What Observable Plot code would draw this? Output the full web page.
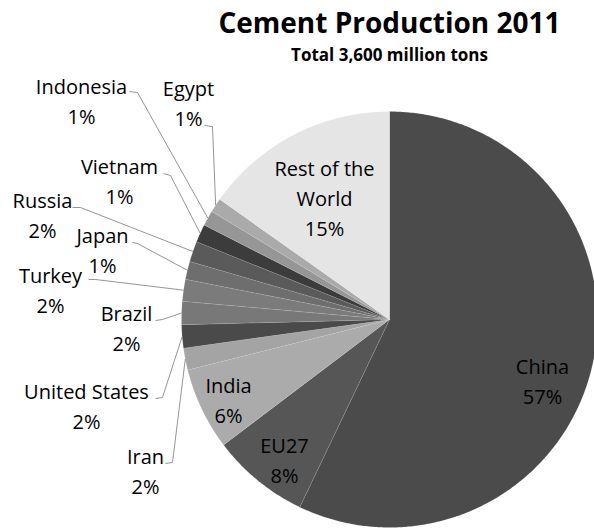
<!DOCTYPE html>
<html><head><meta charset="utf-8">
<script src="https://cdn.jsdelivr.net/npm/d3@7"></script>
<script src="https://cdn.jsdelivr.net/npm/@observablehq/plot@0.6"></script>
<style>body{margin:0;background:#fff}</style>
</head><body><div id="chart"></div>
<script>
// ---- data ----
const title = "Cement Production 2011";
const subtitle = "Total 3,600 million tons";
const countries = ["China","EU27","India","Iran","United States","Brazil","Turkey","Japan","Russia","Vietnam","Indonesia","Egypt","Rest of the World"];
const shares = [57.1, 7.6, 6.4, 1.7, 1.8, 1.8, 1.7, 1.4, 1.6, 1.4, 1.2, 1.1, 15.2]; // percent of total
const sliceColors = ["#4b4b4b","#565656","#ababab","#a4a4a4","#4a4a4a","#787878","#7b7b7b","#6e6e6e","#5a5a5a","#3c3c3c","#969696","#aaaaaa","#e5e5e5"];
const nameLines = {"Rest of the World": ["Rest of the", "World"]};

// ---- layout (pixels) ----
const W = 594, H = 531, CX = 389, CY = 319, R = 208, LH = 30;
const labelLayout = {
  "China":            {x: 542, b: 373},
  "EU27":             {x: 284, b: 452},
  "India":            {x: 228, b: 392},
  "Iran":             {x: 145, b: 463, leader: [[165,463],[172,462]]},
  "United States":    {x: 86,  b: 398, leader: [[155,398],[162,397]]},
  "Brazil":           {x: 126, b: 320, leader: [[155,320],[162,319]]},
  "Turkey":           {x: 50,  b: 282, leader: [[88,279],[95,279]]},
  "Japan":            {x: 102, b: 242, leader: [[132,242],[137,243]]},
  "Russia":           {x: 42,  b: 207, leader: [[72,207],[80,207]]},
  "Vietnam":          {x: 119, b: 173, leader: [[163,173],[170,175]]},
  "Indonesia":        {x: 81,  b: 93,  leader: [[129,91],[137,92]]},
  "Egypt":            {x: 188, b: 95,  leader: [[204,125],[212,126]]},
  "Rest of the World":{x: 324, b: 175}
};
const ux = px => (px - CX) / R;
const uy = py => (CY - py) / R;

// ---- build marks data ----
const table = countries.map((name, i) => ({name, share: shares[i], color: sliceColors[i]}));
const arcs = d3.pie().sort(null).value(d => d.share)(table);

const slicePts = [];
for (const a of arcs) {
  const n = Math.max(2, Math.ceil((a.endAngle - a.startAngle) / (Math.PI / 360)));
  slicePts.push({name: a.data.name, color: a.data.color, x: 0, y: 0});
  for (let k = 0; k <= n; k++) {
    const t = a.startAngle + (a.endAngle - a.startAngle) * k / n;
    slicePts.push({name: a.data.name, color: a.data.color, x: Math.sin(t), y: Math.cos(t)});
  }
  slicePts.push({name: a.data.name, color: a.data.color, x: 0, y: 0});
}

const leaderPts = [];
const labelTexts = [];
for (const a of arcs) {
  const name = a.data.name;
  const L = labelLayout[name];
  const lines = [...(nameLines[name] || [name]), `${Math.round(a.data.share)}%`];
  lines.forEach((t, i) => labelTexts.push({text: t, x: ux(L.x), y: uy(L.b + i * LH)}));
  if (L.leader) {
    const mid = (a.startAngle + a.endAngle) / 2;
    for (const [px, py] of L.leader) leaderPts.push({name, x: ux(px), y: uy(py)});
    leaderPts.push({name, x: Math.sin(mid), y: Math.cos(mid)});
  }
}

const chart = Plot.plot({
  width: W, height: H, margin: 0,
  x: {domain: [-1, 1], range: [CX - R, CX + R], axis: null},
  y: {domain: [-1, 1], range: [CY + R, CY - R], axis: null},
  color: {type: "identity"},
  style: {background: "#fff", overflow: "hidden"},
  marks: [
    Plot.line(slicePts, {x: "x", y: "y", z: "name", fill: "color", stroke: "#ffffff", strokeOpacity: 0.18, strokeWidth: 0.6, curve: "linear"}),
    Plot.line(leaderPts, {x: "x", y: "y", z: "name", stroke: "#7a7a7a", strokeWidth: 0.8, strokeLinecap: "butt", curve: "linear"}),
    Plot.text(labelTexts, {x: "x", y: "y", text: "text", fontSize: 20, fontFamily: "Open Sans", fill: "#000", textAnchor: "middle", lineAnchor: "bottom"}),
    Plot.text([title], {x: () => 0, y: () => uy(32), text: d => d, fontSize: 28, fontWeight: "bold", fontFamily: "Open Sans", fill: "#000", textAnchor: "middle", lineAnchor: "bottom"}),
    Plot.text([subtitle], {x: () => 0, y: () => uy(60), text: d => d, fontSize: 17, fontWeight: "bold", fontFamily: "Open Sans", fill: "#000", textAnchor: "middle", lineAnchor: "bottom"})
  ]
});
document.getElementById("chart").appendChild(chart);
</script>
</body></html>
